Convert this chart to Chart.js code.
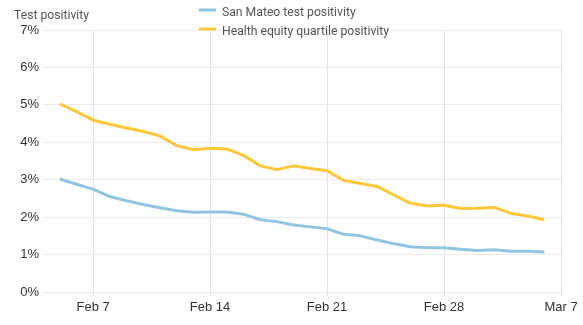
<!DOCTYPE html>
<html>
<head>
<meta charset="utf-8">
<script src="https://cdn.jsdelivr.net/npm/chart.js@4/dist/chart.umd.min.js"></script>
<style>
  html, body { margin: 0; padding: 0; background: #fff; }
  #wrap { width: 583px; height: 325px; position: relative; }
</style>
</head>
<body>
<div id="wrap"><canvas id="c" width="583" height="325"></canvas></div>
<script>
// Daily dates shown on the x axis (Feb 4 and Mar 7 only pad the range)
const dates = [
  'Feb 4', 'Feb 5', 'Feb 6', 'Feb 7', 'Feb 8', 'Feb 9', 'Feb 10', 'Feb 11',
  'Feb 12', 'Feb 13', 'Feb 14', 'Feb 15', 'Feb 16', 'Feb 17', 'Feb 18',
  'Feb 19', 'Feb 20', 'Feb 21', 'Feb 22', 'Feb 23', 'Feb 24', 'Feb 25',
  'Feb 26', 'Feb 27', 'Feb 28', 'Mar 1', 'Mar 2', 'Mar 3', 'Mar 4',
  'Mar 5', 'Mar 6', 'Mar 7'
];

// Test positivity, percent
const sanMateo = [
  null, 3.02, 2.88, 2.75, 2.55, 2.44, 2.34, 2.25, 2.17, 2.13, 2.14, 2.14,
  2.08, 1.93, 1.88, 1.79, 1.74, 1.69, 1.54, 1.50, 1.39, 1.29, 1.21, 1.18,
  1.18, 1.14, 1.11, 1.13, 1.09, 1.09, 1.07, null
];
const healthEquity = [
  null, 5.03, 4.82, 4.59, 4.48, 4.38, 4.29, 4.17, 3.91, 3.80, 3.84, 3.82,
  3.65, 3.37, 3.27, 3.37, 3.30, 3.24, 2.98, 2.90, 2.82, 2.59, 2.37, 2.30,
  2.32, 2.23, 2.24, 2.26, 2.10, 2.03, 1.93, null
];

const seriesNames = ['San Mateo test positivity', 'Health equity quartile positivity'];
const xTickLabels = ['Feb 7', 'Feb 14', 'Feb 21', 'Feb 28', 'Mar 7'];
const yTickLabels = ['0%', '1%', '2%', '3%', '4%', '5%', '6%', '7%'];
const axisTitle = 'Test positivity';

const BLUE = '#92c5e0';
const YELLOW = '#ffc83a';

// Stacked legend and the axis caption drawn above the plot
const headerPlugin = {
  id: 'header',
  afterDraw(chart) {
    const ctx = chart.ctx;
    ctx.save();
    ctx.font = '12.2px Roboto';
    ctx.fillStyle = '#555';
    ctx.textBaseline = 'middle';
    ctx.textAlign = 'left';
    ctx.fillText(axisTitle, 14, 16);

    const items = [
      { text: seriesNames[0], color: BLUE, y: 12 },
      { text: seriesNames[1], color: YELLOW, y: 31 }
    ];
    items.forEach(it => {
      ctx.strokeStyle = it.color;
      ctx.lineWidth = 3;
      ctx.beginPath();
      ctx.moveTo(199, it.y - 2);
      ctx.lineTo(216, it.y - 2);
      ctx.stroke();
      ctx.fillStyle = '#555';
      ctx.fillText(it.text, 222, it.y + 1);
    });
    ctx.restore();
  }
};

new Chart(document.getElementById('c'), {
  type: 'line',
  data: {
    labels: dates,
    datasets: [
      {
        label: seriesNames[0],
        data: sanMateo,
        borderColor: BLUE,
        backgroundColor: BLUE,
        borderWidth: 3,
        pointRadius: 0,
        tension: 0,
        borderJoinStyle: 'round'
      },
      {
        label: seriesNames[1],
        data: healthEquity,
        borderColor: YELLOW,
        backgroundColor: YELLOW,
        borderWidth: 3,
        pointRadius: 0,
        tension: 0,
        borderJoinStyle: 'round'
      }
    ]
  },
  options: {
    responsive: false,
    animation: false,
    events: [],
    layout: { padding: { top: 30, right: 22, left: 0, bottom: 0 } },
    plugins: {
      legend: { display: false },
      title: { display: false },
      tooltip: { enabled: false }
    },
    scales: {
      x: {
        type: 'category',
        offset: false,
        border: { display: false },
        grid: { color: '#e3e3e3', lineWidth: 1, drawTicks: true, tickLength: 4 },
        ticks: {
          autoSkip: false,
          maxRotation: 0,
          padding: 4,
          color: '#333',
          font: { family: 'Liberation Sans', size: 13 },
          callback(value) {
            const lbl = dates[value];
            return xTickLabels.includes(lbl) ? lbl : null;
          }
        },
        afterFit(scale) { scale.height = 33; }
      },
      y: {
        min: 0,
        max: 7,
        border: { display: false },
        grid: { color: '#ebebeb', lineWidth: 1, drawTicks: false },
        ticks: {
          stepSize: 1,
          padding: 4,
          color: '#333',
          font: { family: 'Liberation Sans', size: 13 },
          callback(value) { return yTickLabels[value]; }
        },
        afterFit(scale) { scale.width = 43; }
      }
    }
  },
  plugins: [headerPlugin]
});
</script>
</body>
</html>
